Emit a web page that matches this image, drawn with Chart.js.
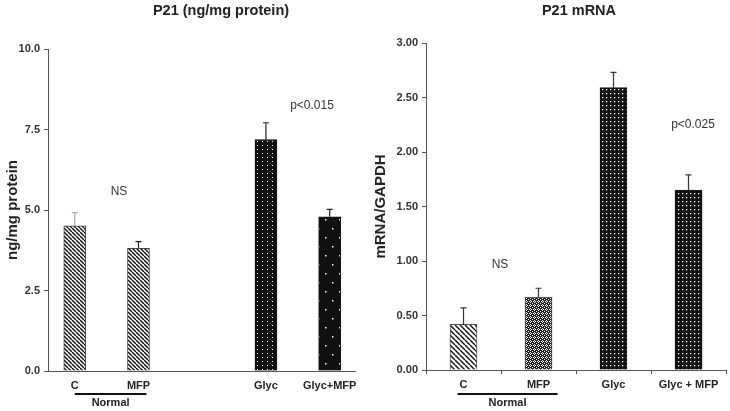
<!DOCTYPE html>
<html><head><meta charset="utf-8">
<script src="https://cdn.jsdelivr.net/npm/chart.js@4/dist/chart.umd.min.js"></script>
<style>
html,body{margin:0;padding:0;background:#fff;overflow:hidden;width:730px;height:411px}
#l{position:absolute;left:0;top:0}
#r{position:absolute;left:365px;top:0}
</style></head>
<body>
<canvas id="l" width="365" height="411"></canvas>
<canvas id="r" width="365" height="411"></canvas>
<script>
// ---- data ----
const leftCategories = ['C', 'MFP', 'Glyc', 'Glyc+MFP'];
const leftPositions = [0, 1, 3, 4];
const leftValues = [4.51, 3.81, 7.19, 4.79];
const leftErrors = [0.41, 0.21, 0.52, 0.23];
const leftTicks = [0, 2.5, 5, 7.5, 10];

const rightCategories = ['C', 'MFP', 'Glyc', 'Glyc + MFP'];
const rightValues = [0.42, 0.67, 2.59, 1.65];
const rightErrors = [0.15, 0.08, 0.14, 0.14];
const rightTicks = [0, 0.5, 1, 1.5, 2, 2.5, 3];

const FONT = "'Liberation Sans', Arial, Helvetica, sans-serif";

function pattern(w, h, fn) {
  const c = document.createElement('canvas');
  c.width = w; c.height = h;
  const g = c.getContext('2d');
  fn(g, w, h);
  return g.createPattern(c, 'repeat');
}
function hatch(s, lw) {
  return pattern(s, s, (g, w, h) => {
    g.fillStyle = '#fff'; g.fillRect(0, 0, w, h);
    g.strokeStyle = '#111'; g.lineWidth = lw;
    for (const k of [-s, 0, s]) { g.beginPath(); g.moveTo(k, 0); g.lineTo(k + s, s); g.stroke(); }
  });
}
const hatchL = hatch(4, 1.4);
const hatchR = hatch(5, 1.4);
const dotsCols = pattern(5, 4, (g) => { g.fillStyle = '#111'; g.fillRect(0, 0, 5, 4); g.fillStyle = '#fff'; g.fillRect(2, 1, 1, 1); });
const dotsSparse = pattern(14, 18, (g) => { g.fillStyle = '#111'; g.fillRect(0, 0, 14, 18); g.fillStyle = '#fff'; g.fillRect(3, 3, 1.5, 1.5); g.fillRect(10, 12, 1.5, 1.5); });
const dotsDense = pattern(4, 4, (g) => { g.fillStyle = '#111'; g.fillRect(0, 0, 4, 4); g.fillStyle = '#fff'; g.fillRect(1, 1, 1.3, 1.3); });
const checker = pattern(4, 4, (g) => {
  g.fillStyle = '#222'; g.fillRect(0, 0, 4, 4);
  g.fillStyle = '#fff';
  g.fillRect(1, 0, 1, 1); g.fillRect(0, 1, 1, 1); g.fillRect(2, 1, 1, 1); g.fillRect(1, 2, 1, 1); g.fillRect(3, 3, 1, 1);
});

function extras(cfg) {
  return {
    id: 'extras',
    afterDraw(chart) {
      const ctx = chart.ctx;
      const meta = chart.getDatasetMeta(0);
      const ys = chart.scales.y;
      ctx.save();
      meta.data.forEach((bar, i) => {
        const top = ys.getPixelForValue(cfg.values[i] + cfg.errors[i]);
        ctx.strokeStyle = cfg.errColors[i];
        ctx.lineWidth = 1.2;
        ctx.beginPath();
        ctx.moveTo(bar.x, bar.y); ctx.lineTo(bar.x, top);
        ctx.moveTo(bar.x - 3, top); ctx.lineTo(bar.x + 3, top);
        ctx.stroke();
      });
      ctx.fillStyle = '#222';
      ctx.textAlign = 'center'; ctx.textBaseline = 'middle';
      ctx.font = 'bold 14.5px ' + FONT;
      ctx.fillText(cfg.title, cfg.titleX, 11);
      ctx.font = '12px ' + FONT;
      ctx.fillStyle = '#333';
      cfg.notes.forEach(n => ctx.fillText(n[0], n[1], n[2]));
      const b0 = meta.data[0].x + cfg.lineOff[0], b1 = meta.data[1].x + cfg.lineOff[1];
      ctx.strokeStyle = '#111'; ctx.lineWidth = 2;
      ctx.beginPath(); ctx.moveTo(b0, 394); ctx.lineTo(b1, 394); ctx.stroke();
      ctx.fillStyle = '#222';
      ctx.font = 'bold 11px ' + FONT;
      ctx.fillText('Normal', (b0 + b1) / 2, 403);
      ctx.restore();
    }
  };
}

const tickFont = { family: FONT, size: 11, weight: 'bold' };
const axisColor = '#555';

new Chart(document.getElementById('l'), {
  type: 'bar',
  data: {
    datasets: [{
      data: leftPositions.map((x, i) => ({ x: x, y: leftValues[i] })),
      backgroundColor: [hatchL, hatchL, dotsCols, dotsSparse],
      borderColor: ['#444', '#444', '#111', '#111'],
      borderWidth: 1,
      barThickness: 22
    }]
  },
  options: {
    responsive: false, animation: false,
    layout: { padding: { top: 49, right: 7, left: 0, bottom: 0 } },
    plugins: { legend: { display: false }, tooltip: { enabled: false } },
    scales: {
      x: {
        type: 'linear', min: -0.42, max: 4.41, offset: false,
        afterBuildTicks: s => { s.ticks = leftPositions.map(v => ({ value: v })); },
        afterFit: s => { s.height = 40; },
        ticks: {
          autoSkip: false, maxRotation: 0, padding: 8, color: '#222', font: tickFont,
          callback: v => leftCategories[leftPositions.indexOf(v)]
        },
        grid: { display: false, drawTicks: false },
        border: { display: true, color: axisColor, width: 1 }
      },
      y: {
        min: 0, max: 10,
        afterBuildTicks: s => { s.ticks = leftTicks.map(v => ({ value: v })); },
        afterFit: s => { s.width = 48; },
        ticks: { padding: 4, color: '#333', font: tickFont, callback: v => v.toFixed(1) },
        grid: { drawOnChartArea: false, drawTicks: true, tickLength: 4, color: axisColor },
        border: { display: true, color: axisColor, width: 1 },
        title: { display: true, text: 'ng/mg protein', color: '#222', font: { family: FONT, size: 15, weight: 'bold' }, padding: { top: 4, bottom: 0 } }
      }
    }
  },
  plugins: [extras({
    values: leftValues, errors: leftErrors,
    errColors: ['#aaa', '#222', '#222', '#222'],
    title: 'P21 (ng/mg protein)', titleX: 221,
    notes: [['NS', 119, 192], ['p<0.015', 312, 106]],
    lineOff: [0, 8]
  })]
});

new Chart(document.getElementById('r'), {
  type: 'bar',
  data: {
    labels: rightCategories,
    datasets: [{
      data: rightValues,
      backgroundColor: [hatchR, checker, dotsDense, dotsDense],
      borderColor: ['#555', '#444', '#111', '#111'],
      borderWidth: 1,
      barThickness: 27
    }]
  },
  options: {
    responsive: false, animation: false,
    layout: { padding: { top: 43, right: 4, left: 0, bottom: 0 } },
    plugins: { legend: { display: false }, tooltip: { enabled: false } },
    scales: {
      x: {
        offset: true,
        afterFit: s => { s.height = 41; },
        ticks: { autoSkip: false, maxRotation: 0, padding: 4, color: '#222', font: tickFont },
        grid: { offset: true, drawOnChartArea: false, drawTicks: true, tickLength: 4, color: axisColor },
        border: { display: true, color: axisColor, width: 1 }
      },
      y: {
        min: 0, max: 3,
        afterBuildTicks: s => { s.ticks = rightTicks.map(v => ({ value: v })); },
        afterFit: s => { s.width = 61; },
        ticks: { padding: 4, color: '#333', font: tickFont, callback: v => v.toFixed(2) },
        grid: { drawOnChartArea: false, drawTicks: true, tickLength: 4, color: axisColor },
        border: { display: true, color: axisColor, width: 1 },
        title: { display: true, text: 'mRNA/GAPDH', color: '#222', font: { family: FONT, size: 15, weight: 'bold' }, padding: { top: 7, bottom: 0 } }
      }
    }
  },
  plugins: [extras({
    values: rightValues, errors: rightErrors,
    errColors: ['#333', '#333', '#333', '#333'],
    title: 'P21 mRNA', titleX: 214,
    notes: [['NS', 135, 265], ['p<0.025', 328, 125]],
    lineOff: [-6, 19]
  })]
});
</script>
</body></html>
